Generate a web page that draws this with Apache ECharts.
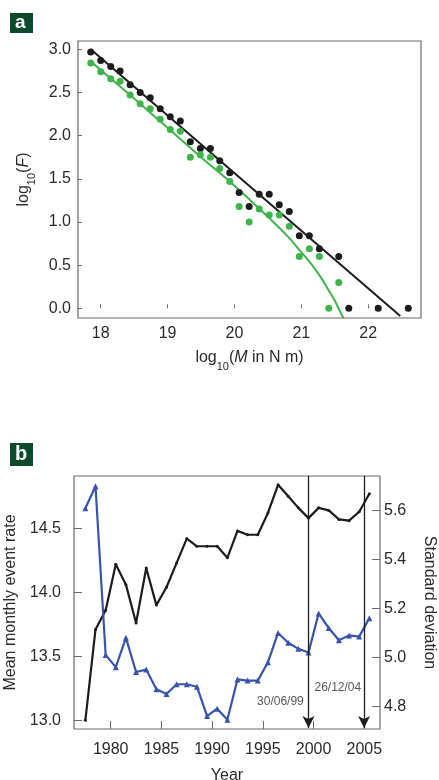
<!DOCTYPE html>
<html>
<head>
<meta charset="utf-8">
<script src="https://cdn.jsdelivr.net/npm/echarts@6/dist/echarts.min.js"></script>
<style>
html,body{margin:0;padding:0;background:#fff;}
#chart{width:439px;height:780px;}
</style>
</head>
<body>
<div id="chart"></div>
<script>
// ---------- Panel a data ----------
const blackM = [17.85,18.0,18.15,18.29,18.44,18.59,18.74,18.89,19.04,19.19,19.34,19.49,19.64,19.78,19.93,20.07,20.22,20.37,20.52,20.67,20.82,20.97,21.12,21.27,21.56,21.71,22.15,22.60];
const blackLogF = [2.97,2.87,2.80,2.75,2.59,2.50,2.44,2.31,2.22,2.17,1.93,1.85,1.85,1.71,1.57,1.34,1.18,1.32,1.32,1.20,1.12,0.84,0.84,0.69,0.60,0.0,0.0,0.0];
const greenM = [17.85,18.0,18.15,18.29,18.44,18.59,18.74,18.89,19.04,19.19,19.34,19.49,19.64,19.78,19.93,20.07,20.22,20.37,20.52,20.67,20.82,20.97,21.12,21.27,21.41,21.56];
const greenLogF = [2.84,2.74,2.66,2.63,2.47,2.37,2.31,2.19,2.07,2.05,1.75,1.78,1.75,1.62,1.47,1.18,1.00,1.15,1.08,1.08,0.95,0.60,0.69,0.60,0.0,0.30];
const blackFitM = [17.85, 22.48];
const blackFitLogF = [3.0, -0.09];
const greenFitM = [17.85,18.5,19.0,19.5,20.0,20.5,20.8,21.0,21.1,21.2,21.3,21.4,21.5,21.55,21.63];
const greenFitLogF = [2.86,2.43,2.09,1.75,1.42,1.06,0.83,0.65,0.56,0.46,0.35,0.22,0.09,0.01,-0.115];
const aXTicks = [18,19,20,21,22];
const aYTicks = [0,0.5,1.0,1.5,2.0,2.5,3.0];

// ---------- Panel b data ----------
const years = [1977.5,1978.5,1979.5,1980.5,1981.5,1982.5,1983.5,1984.5,1985.5,1986.5,1987.5,1988.5,1989.5,1990.5,1991.5,1992.5,1993.5,1994.5,1995.5,1996.5,1997.5,1998.5,1999.5,2000.5,2001.5,2002.5,2003.5,2004.5,2005.5];
const eventRate = [13.00,13.71,13.86,14.22,14.06,13.76,14.19,13.90,14.04,14.23,14.42,14.36,14.36,14.36,14.27,14.48,14.45,14.45,14.62,14.84,14.75,14.66,14.58,14.66,14.64,14.57,14.56,14.63,14.77];
const stdDev = [5.61,5.70,5.01,4.96,5.08,4.94,4.95,4.87,4.85,4.89,4.89,4.88,4.76,4.79,4.745,4.91,4.905,4.905,4.98,5.10,5.06,5.035,5.02,5.18,5.12,5.07,5.09,5.085,5.16];
const eventDates = [1999.5, 2004.98];
const eventLabels = ['30/06/99', '26/12/04'];
const eventLabelYears = [1996.73, 2002.39];
const eventLabelLevels = [13.143, 13.258];
const bXTicks = [1980,1985,1990,1995,2000,2005];
const bLeftTicks = [13.0,13.5,14.0,14.5];
const bRightTicks = [4.8,5.0,5.2,5.4,5.6];

// ---------- styling ----------
const FONT = "'Liberation Sans', Arial, sans-serif";
const TXT = '#2a2a2a';
const FRAME = '#6b6b6b';
const BLACK = '#1c1c1c';
const GREEN = '#3fb44a';
const BLUE = '#3754ad';
const FS = 16;
const zip = (a, b) => a.map((v, i) => [v, b[i]]);
const nameRich = {
  n: {fontSize: FS, fontFamily: FONT, color: TXT, lineHeight: 22, verticalAlign: 'top'},
  i: {fontSize: FS, fontFamily: FONT, color: TXT, fontStyle: 'italic', lineHeight: 22, verticalAlign: 'top'},
  s: {fontSize: 11, fontFamily: FONT, color: TXT, lineHeight: 11, verticalAlign: 'bottom'}
};
const labelStyle = (vals, margin, fmt) => ({
  customValues: vals, margin: margin, fontSize: FS, fontFamily: FONT, color: TXT,
  formatter: fmt
});
const tickStyle = (vals, len) => ({customValues: vals, inside: true, length: len, lineStyle: {color: FRAME, width: 1}});

const chart = echarts.init(document.getElementById('chart'), null, {renderer: 'canvas'});
const option = {
  animation: false,
  backgroundColor: '#fff',
  textStyle: {fontFamily: FONT},
  grid: [
    {left: 78, top: 41, width: 343, height: 277, show: true, borderColor: FRAME, borderWidth: 1.2, backgroundColor: 'transparent',
      containLabel: false, outerBoundsMode: 'none'},
    {left: 74, top: 476, width: 306, height: 253, show: true, borderColor: FRAME, borderWidth: 1.2, backgroundColor: 'transparent',
      containLabel: false, outerBoundsMode: 'none'}
  ],
  xAxis: [
    {gridIndex: 0, type: 'value', min: 17.66, max: 22.79,
      axisLine: {show: false}, splitLine: {show: false},
      axisTick: tickStyle(aXTicks, 4),
      axisLabel: labelStyle(aXTicks, 8, v => String(v)),
      name: '{n|log}{s|10}{n|(}{i|M}{n| in N m)}', nameLocation: 'middle', nameGap: 32,
      nameTextStyle: {rich: nameRich}},
    {gridIndex: 1, type: 'value', min: 1976.38, max: 2006.55,
      axisLine: {show: false}, splitLine: {show: false},
      axisTick: tickStyle(bXTicks, 8),
      axisLabel: labelStyle(bXTicks, 13, v => String(v)),
      name: 'Year', nameLocation: 'middle', nameGap: 39,
      nameTextStyle: {fontSize: FS, fontFamily: FONT, color: TXT}}
  ],
  yAxis: [
    {gridIndex: 0, type: 'value', min: -0.112, max: 3.096,
      axisLine: {show: false}, splitLine: {show: false},
      axisTick: tickStyle(aYTicks, 4),
      axisLabel: labelStyle(aYTicks, 7, v => v.toFixed(1)),
      name: '{n|log}{s|10}{n|(}{i|F}{n|)}', nameLocation: 'middle', nameGap: 31,
      nameTextStyle: {rich: nameRich}},
    {gridIndex: 1, type: 'value', min: 12.932, max: 14.909, position: 'left',
      axisLine: {show: false}, splitLine: {show: false},
      axisTick: tickStyle(bLeftTicks, 8),
      axisLabel: labelStyle(bLeftTicks, 13, v => v.toFixed(1)),
      name: 'Mean monthly event rate', nameLocation: 'middle', nameGap: 46,
      nameTextStyle: {fontSize: FS, fontFamily: FONT, color: TXT}},
    {gridIndex: 1, type: 'value', min: 4.707, max: 5.742, position: 'right',
      axisLine: {show: false}, splitLine: {show: false},
      axisTick: tickStyle(bRightTicks, 8),
      axisLabel: labelStyle(bRightTicks, 4, v => v.toFixed(1)),
      name: 'Standard deviation', nameLocation: 'middle', nameGap: 41, nameRotate: -90,
      nameTextStyle: {fontSize: FS, fontFamily: FONT, color: TXT}}
  ],
  series: [
    {type: 'line', xAxisIndex: 0, yAxisIndex: 0, data: zip(blackFitM, blackFitLogF), showSymbol: false, symbol: 'none',
      lineStyle: {color: BLACK, width: 2}, z: 2, silent: true},
    {type: 'line', xAxisIndex: 0, yAxisIndex: 0, data: zip(greenFitM, greenFitLogF), showSymbol: false, symbol: 'none', smooth: 0.3,
      lineStyle: {color: GREEN, width: 2}, z: 2, silent: true},
    {type: 'scatter', xAxisIndex: 0, yAxisIndex: 0, data: zip(blackM, blackLogF), symbolSize: 7,
      itemStyle: {color: BLACK, opacity: 1}, z: 3},
    {type: 'scatter', xAxisIndex: 0, yAxisIndex: 0, data: zip(greenM, greenLogF), symbolSize: 7,
      itemStyle: {color: GREEN, opacity: 1}, z: 3},
    {type: 'line', xAxisIndex: 1, yAxisIndex: 1, data: zip(years, eventRate), symbol: 'circle', symbolSize: 3, showSymbol: true,
      lineStyle: {color: BLACK, width: 2.2}, itemStyle: {color: BLACK}, z: 3},
    {type: 'line', xAxisIndex: 1, yAxisIndex: 2, data: zip(years, stdDev), symbol: 'triangle', symbolSize: 6, showSymbol: true,
      lineStyle: {color: BLUE, width: 2.2}, itemStyle: {color: BLUE}, z: 3},
    {type: 'scatter', xAxisIndex: 1, yAxisIndex: 1,
      data: eventLabelYears.map((y, i) => [y, eventLabelLevels[i], eventLabels[i]]),
      symbolSize: 0, silent: true,
      label: {show: true, position: 'inside', formatter: p => p.value[2], fontSize: 12, fontFamily: FONT, color: TXT},
      markLine: {
        silent: true, symbol: ['none', 'arrow'], symbolSize: [9, 12], animation: false,
        label: {show: false},
        lineStyle: {color: BLACK, width: 1.3, type: 'solid'},
        data: eventDates.map(d => [{coord: [d, 14.909]}, {coord: [d, 12.94]}])
      }}
  ],
  graphic: [
    {type: 'rect', left: 10, top: 13, shape: {width: 23, height: 20}, style: {fill: '#0b4a2b'}},
    {type: 'text', left: 15, top: 13, style: {text: 'a', fill: '#fff', font: "bold 19px 'Liberation Sans', Arial"}},
    {type: 'rect', left: 10, top: 443, shape: {width: 23, height: 23}, style: {fill: '#0b4a2b'}},
    {type: 'text', left: 15, top: 444, style: {text: 'b', fill: '#fff', font: "bold 20px 'Liberation Sans', Arial"}}
  ]
};
chart.setOption(option);
</script>
</body>
</html>
